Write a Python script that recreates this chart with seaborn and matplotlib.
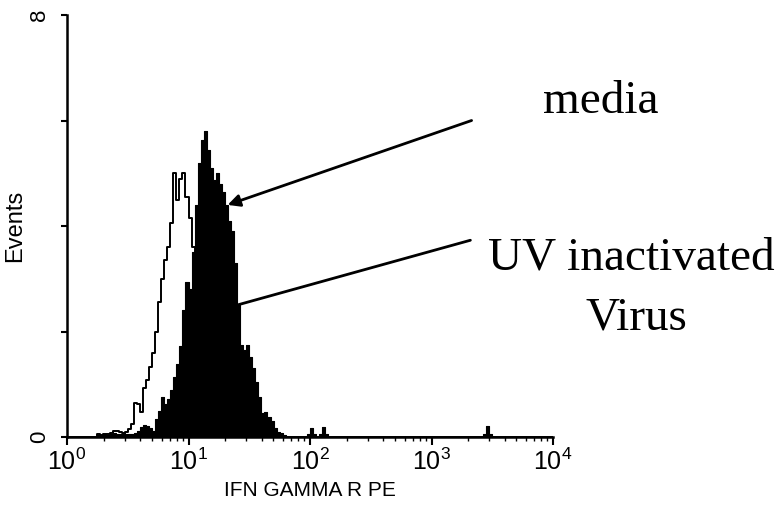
import numpy as np
import pandas as pd
import matplotlib
matplotlib.use("Agg")
import matplotlib.pyplot as plt
import seaborn as sns
from matplotlib.ticker import LogLocator, NullFormatter

# ---------------- data ----------------
decades_per_channel = 0.025          # histogram channel width (log10 units)

media_first_channel = 10
media_counts = [0.05, 0.04, 0.06, 0.05, 0.08, 0.12, 0.12, 0.10, 0.08, 0.10,
                0.15, 0.25, 0.64, 0.62, 0.48, 0.92, 1.08, 1.33, 1.60, 2.00,
                2.55, 3.00, 3.36, 3.60, 4.06, 5.00, 4.50, 4.90, 5.00, 4.55,
                4.15, 3.60, 3.20, 2.80, 2.40, 2.00, 1.70, 1.40, 1.10, 0.85,
                0.60, 0.45, 0.30, 0.20, 0.12, 0.08, 0.05]

virus_first_channel = 10
virus_counts = [0.04, 0.03, 0.05, 0.04, 0.06, 0.08, 0.06, 0.05, 0.07, 0.06,
                0.05, 0.06, 0.08, 0.12, 0.19, 0.23, 0.20, 0.17, 0.12, 0.35,
                0.50, 0.76, 0.62, 0.72, 0.90, 1.14, 1.38, 1.72, 2.40, 2.94,
                2.80, 3.50, 4.40, 5.20, 5.63, 5.80, 5.45, 5.10, 4.87, 5.00,
                4.80, 4.65, 4.40, 4.10, 3.90, 3.30, 2.50, 1.75, 1.65, 1.74,
                1.52, 1.30, 1.05, 0.75, 0.45, 0.47, 0.38, 0.30, 0.18, 0.10,
                0.07, 0.04]
virus_extra_channels = [79, 80, 81, 83, 84, 85, 137, 138, 139]
virus_extra_counts = [0.06, 0.17, 0.06, 0.06, 0.19, 0.06, 0.05, 0.20, 0.05]

x_ticks = [1, 10, 100, 1000, 10000]
y_ticks = [0, 2, 4, 6, 8]
y_ticklabels = ["0", "", "", "", "8"]
x_label = "IFN GAMMA R PE"
y_label = "Events"
label_media = "media"
label_virus_1 = "UV inactivated"
label_virus_2 = "Virus"


def channel_table(first, counts):
    ch = np.arange(first, first + len(counts))
    return ch, np.asarray(counts, dtype=float)


m_ch, m_ev = channel_table(media_first_channel, media_counts)
v_ch, v_ev = channel_table(virus_first_channel, virus_counts)
v_ch = np.concatenate([v_ch, virus_extra_channels])
v_ev = np.concatenate([v_ev, virus_extra_counts])

media_df = pd.DataFrame({"intensity": 10 ** ((m_ch + 0.5) * decades_per_channel),
                         "events": m_ev})
virus_df = pd.DataFrame({"intensity": 10 ** ((v_ch + 0.5) * decades_per_channel),
                         "events": v_ev})

# ---------------- plot ----------------
sns.set_theme(style="ticks")
plt.rcParams["font.family"] = ["Liberation Sans", "DejaVu Sans"]

fig = plt.figure(figsize=(7.81, 5.08), dpi=100)
W, H = 781, 508
ax = fig.add_axes([67 / W, 1 - 437 / H, (553 - 67) / W, (437 - 15) / H])

sns.histplot(data=media_df, x="intensity", weights="events",
             binwidth=decades_per_channel, binrange=(0, 4), log_scale=True,
             element="step", fill=False, color="black", linewidth=1.4, ax=ax)
sns.histplot(data=virus_df, x="intensity", weights="events",
             binwidth=decades_per_channel, binrange=(0, 4), log_scale=True,
             element="step", fill=True, color="black", alpha=1.0,
             linewidth=0.8, ax=ax)

ax.set_xlim(1, 1e4)
ax.set_ylim(0, 8)
ax.set_xticks(x_ticks)
ax.xaxis.set_minor_locator(LogLocator(base=10, subs=np.arange(2, 10)))
ax.xaxis.set_minor_formatter(NullFormatter())
ax.set_yticks(y_ticks)
ax.set_yticklabels(y_ticklabels, rotation=90, va="center")

sns.despine(ax=ax)
for s in ("left", "bottom"):
    ax.spines[s].set_linewidth(1.8)
    ax.spines[s].set_color("black")

ax.tick_params(axis="x", which="major", length=6, width=1.5, labelsize=18,
               color="black", labelcolor="black", pad=2)
ax.tick_params(axis="x", which="minor", length=3, width=1.0, color="black")
ax.tick_params(axis="y", which="major", length=4, width=1.5, labelsize=16,
               color="black", labelcolor="black", pad=8)

ax.set_xlabel(x_label, fontsize=15, color="black", labelpad=5)
ax.set_ylabel(y_label, fontsize=17, color="black", labelpad=2)
ax.set_facecolor("white")
fig.patch.set_facecolor("white")

# arrows (data coordinates)
ax.annotate("", xy=(21.0, 4.40), xytext=(10 ** 3.33, 6.0),
            arrowprops=dict(arrowstyle="-|>", color="black", lw=2,
                            mutation_scale=18, shrinkA=0, shrinkB=0))
ax.annotate("", xy=(25.0, 2.50), xytext=(10 ** 3.32, 3.73),
            arrowprops=dict(arrowstyle="-", color="black", lw=2,
                            shrinkA=0, shrinkB=0))

serif = ["Liberation Serif", "DejaVu Serif"]
fig.text(601 / W, 1 - 113 / H, label_media, family=serif, fontsize=34,
         ha="center", va="baseline", color="black")
fig.text(631 / W, 1 - 270 / H, label_virus_1, family=serif, fontsize=34,
         ha="center", va="baseline", color="black")
fig.text(636 / W, 1 - 330 / H, label_virus_2, family=serif, fontsize=34,
         ha="center", va="baseline", color="black")

fig.savefig("out.png", dpi=100, facecolor="white")
